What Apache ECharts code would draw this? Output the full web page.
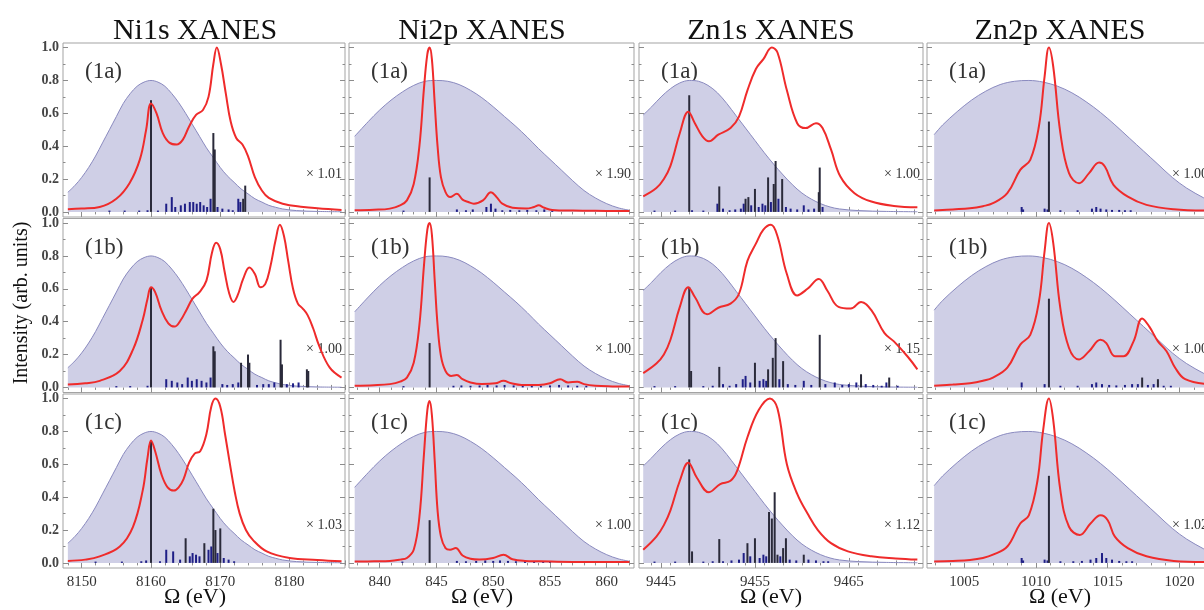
<!DOCTYPE html>
<html>
<head>
<meta charset="utf-8">
<script src="https://cdn.jsdelivr.net/npm/echarts@6/dist/echarts.min.js"></script>
<style>html,body{margin:0;padding:0;background:#fff;}#c{width:1204px;height:610px;}</style>
</head>
<body>
<div id="c"></div>
<script>
// ---------------- DATA ----------------
const titles = ['Ni1s XANES', 'Ni2p XANES', 'Zn1s XANES', 'Zn2p XANES'];
const panelLabels = ['(1a)', '(1b)', '(1c)'];
const scaleLabels = [
  ['× 1.01', '× 1.90', '× 1.00', '× 1.00'],
  ['× 1.00', '× 1.00', '× 1.15', '× 1.00'],
  ['× 1.03', '× 1.00', '× 1.12', '× 1.02']
];
const xTickLabels = [
  [8150, 8160, 8170, 8180],
  [840, 845, 850, 855, 860],
  [9445, 9455, 9465],
  [1005, 1010, 1015, 1020]
];
const yTickLabels = [0, 0.2, 0.4, 0.6, 0.8, 1.0];
const xAxisName = 'Ω (eV)';
const yAxisName = 'Intensity (arb. units)';

// incident pulse spectra (shaded)
const pulseNi1s = [[8148,0.12],[8149,0.16],[8150,0.21],[8151,0.27],[8152,0.34],[8153,0.42],[8154,0.50],[8155,0.58],[8156,0.66],[8157,0.72],[8158,0.765],[8159,0.79],[8160,0.80],[8161,0.79],[8162,0.765],[8163,0.72],[8164,0.665],[8165,0.60],[8166,0.53],[8167,0.46],[8168,0.39],[8169,0.33],[8170,0.27],[8171,0.22],[8172,0.18],[8173,0.14],[8174,0.11],[8175,0.08],[8176,0.06],[8177,0.04],[8178,0.028],[8179,0.018],[8181,0.008],[8184,0.003],[8187.5,0.001]];
const pulseNi2p = [[837.8,0.46],[839,0.55],[840,0.62],[841,0.68],[842,0.73],[843,0.77],[844,0.795],[845,0.80],[846,0.795],[847,0.775],[848,0.74],[849,0.695],[850,0.64],[851,0.58],[852,0.52],[853,0.455],[854,0.385],[855,0.32],[856,0.255],[857,0.19],[858,0.13],[859,0.085],[860,0.05],[861,0.025],[862,0.01]];
const pulseZn1s = [[9443.1,0.59],[9444,0.64],[9445,0.70],[9446,0.75],[9447,0.785],[9448,0.80],[9449,0.795],[9450,0.77],[9451,0.725],[9452,0.66],[9453,0.585],[9454,0.51],[9455,0.435],[9456,0.36],[9457,0.29],[9458,0.225],[9459,0.165],[9460,0.115],[9461,0.078],[9462,0.05],[9463,0.03],[9464,0.018],[9466,0.008],[9469,0.003],[9472.3,0.001]];
const pulseZn2p = [[1002.9,0.47],[1003.5,0.53],[1004.5,0.61],[1005.5,0.68],[1006.5,0.735],[1007.5,0.775],[1008.5,0.795],[1009.5,0.80],[1010.5,0.79],[1011.5,0.765],[1012.5,0.725],[1013.5,0.67],[1014.5,0.605],[1015.5,0.53],[1016.5,0.45],[1017.5,0.37],[1018.5,0.29],[1019.5,0.21],[1020.5,0.145],[1021.7,0.085],[1022.1,0.07]];

// XANES spectra (red)
const specNi1sA = [[8148.0,0.016],[8150,0.02],[8152.6,0.03],[8155.0,0.08],[8156.9,0.175],[8158.4,0.32],[8159.3,0.50],[8160.0,0.66],[8160.8,0.60],[8161.7,0.48],[8162.7,0.42],[8163.7,0.41],[8164.6,0.44],[8165.5,0.52],[8166.5,0.59],[8167.5,0.62],[8168.3,0.70],[8169.0,0.90],[8169.5,1.0],[8170.1,0.90],[8170.8,0.72],[8171.5,0.55],[8172.3,0.45],[8173.2,0.41],[8174.0,0.34],[8175.0,0.21],[8176.0,0.13],[8177.0,0.085],[8179.0,0.05],[8182,0.03],[8184,0.022],[8187.5,0.012]];
const specNi1sB = [[8148,0.018],[8150.5,0.025],[8152.6,0.04],[8155.5,0.10],[8157.4,0.23],[8158.8,0.41],[8159.5,0.54],[8160.0,0.61],[8160.6,0.58],[8161.5,0.47],[8162.5,0.39],[8163.4,0.37],[8164.3,0.41],[8165.1,0.47],[8166.0,0.54],[8167.0,0.58],[8168.0,0.65],[8168.8,0.82],[8169.4,0.88],[8170.0,0.84],[8170.6,0.71],[8171.3,0.57],[8171.9,0.52],[8172.5,0.56],[8173.3,0.66],[8174.2,0.73],[8175.0,0.69],[8175.8,0.61],[8176.5,0.63],[8177.2,0.73],[8178.0,0.90],[8178.6,0.99],[8179.2,0.92],[8179.8,0.77],[8180.5,0.60],[8181.2,0.51],[8181.9,0.48],[8182.6,0.44],[8183.4,0.36],[8184.3,0.25],[8185.8,0.12],[8187.5,0.06]];
const specNi1sC = [[8148,0.012],[8150.5,0.02],[8152.6,0.04],[8155.5,0.10],[8157.4,0.22],[8158.8,0.44],[8159.5,0.64],[8160.0,0.745],[8160.6,0.68],[8161.5,0.54],[8162.4,0.46],[8163.3,0.44],[8164.0,0.46],[8164.7,0.51],[8165.5,0.61],[8166.3,0.665],[8167.1,0.68],[8168.0,0.785],[8168.7,0.95],[8169.3,1.0],[8170.0,0.95],[8170.7,0.78],[8171.4,0.60],[8172.1,0.43],[8172.8,0.30],[8173.7,0.20],[8174.7,0.14],[8176.7,0.07],[8180,0.03],[8184,0.018],[8187.5,0.01]];
const specNi2pA = [[837.8,0.01],[839.5,0.013],[840.9,0.02],[841.8,0.04],[842.4,0.07],[843.0,0.17],[843.5,0.40],[843.9,0.75],[844.2,0.96],[844.4,1.0],[844.6,0.93],[844.85,0.66],[845.1,0.40],[845.4,0.21],[845.8,0.12],[846.2,0.09],[846.8,0.11],[847.3,0.075],[847.8,0.06],[848.3,0.05],[849.1,0.07],[849.8,0.12],[850.3,0.09],[850.8,0.05],[851.7,0.025],[852.9,0.02],[853.6,0.03],[854.0,0.04],[854.5,0.025],[855.2,0.012],[857,0.008],[860,0.006],[862,0.005]];
const specNi2pB = [[837.8,0.01],[839.5,0.013],[840.9,0.02],[841.8,0.035],[842.4,0.06],[843.0,0.15],[843.5,0.38],[843.9,0.74],[844.2,0.96],[844.4,1.0],[844.6,0.93],[844.85,0.65],[845.1,0.38],[845.4,0.19],[845.8,0.10],[846.3,0.07],[846.8,0.075],[847.3,0.05],[848.0,0.03],[849.0,0.02],[850.2,0.025],[850.9,0.04],[851.6,0.025],[852.5,0.015],[854.0,0.015],[855.0,0.025],[855.9,0.05],[856.6,0.03],[857.4,0.035],[858.0,0.02],[859,0.01],[860.5,0.006],[862,0.005]];
const specNi2pC = [[837.8,0.008],[839.5,0.01],[840.9,0.012],[841.8,0.02],[842.4,0.03],[843.0,0.08],[843.5,0.28],[843.9,0.66],[844.2,0.93],[844.4,0.985],[844.6,0.90],[844.85,0.62],[845.1,0.32],[845.4,0.16],[845.8,0.09],[846.2,0.08],[846.7,0.09],[847.3,0.045],[848.0,0.025],[848.8,0.02],[850.0,0.03],[850.9,0.05],[851.7,0.022],[852.8,0.012],[854.1,0.01],[857,0.006],[862,0.005]];
const specZn1sA = [[9443.1,0.095],[9444.5,0.145],[9445.3,0.2],[9446.0,0.28],[9447.0,0.48],[9447.9,0.61],[9448.6,0.54],[9449.4,0.46],[9450.1,0.43],[9451.1,0.47],[9452.4,0.51],[9453.3,0.58],[9454.2,0.74],[9455.1,0.87],[9455.9,0.93],[9456.8,1.0],[9457.4,0.97],[9458.4,0.74],[9459.5,0.54],[9460.4,0.51],[9461.5,0.54],[9462.2,0.51],[9463.1,0.38],[9464.1,0.215],[9465.6,0.114],[9467.4,0.063],[9469.8,0.036],[9472.3,0.028]];
const specZn1sB = [[9443.1,0.087],[9444.5,0.145],[9445.3,0.2],[9446.0,0.29],[9447.0,0.49],[9447.9,0.61],[9448.6,0.55],[9449.9,0.445],[9451.1,0.485],[9452.4,0.51],[9453.3,0.57],[9454.2,0.77],[9455.1,0.875],[9455.9,0.96],[9456.7,0.99],[9457.4,0.92],[9458.4,0.69],[9459.5,0.56],[9460.6,0.60],[9461.8,0.66],[9462.7,0.59],[9463.9,0.49],[9465.2,0.48],[9466.3,0.52],[9467.4,0.47],[9468.8,0.33],[9469.8,0.28],[9471.3,0.185],[9472.3,0.11]];
const specZn1sC = [[9443.1,0.08],[9444.5,0.16],[9445.3,0.23],[9446.0,0.32],[9447.0,0.50],[9447.9,0.61],[9448.8,0.52],[9450.1,0.43],[9451.3,0.48],[9452.4,0.50],[9453.1,0.56],[9454.2,0.765],[9455.4,0.93],[9456.6,1.0],[9457.4,0.94],[9458.4,0.60],[9459.5,0.42],[9460.6,0.30],[9461.7,0.20],[9463.1,0.12],[9464.9,0.07],[9467.4,0.04],[9470,0.027],[9472.3,0.02]];
const specZn2pA = [[1002.9,0.008],[1004.2,0.015],[1005.4,0.022],[1006.3,0.035],[1007.0,0.053],[1008.0,0.114],[1008.9,0.256],[1009.6,0.317],[1010.2,0.52],[1010.6,0.825],[1010.9,1.0],[1011.2,0.885],[1011.7,0.48],[1012.3,0.236],[1013.0,0.175],[1013.7,0.236],[1014.4,0.30],[1014.8,0.276],[1015.4,0.165],[1016.4,0.093],[1017.7,0.043],[1019.6,0.016],[1022.0,0.008]];
const specZn2pB = [[1002.9,0.01],[1004.2,0.017],[1005.4,0.025],[1006.3,0.04],[1007.0,0.06],[1008.0,0.12],[1008.9,0.26],[1009.6,0.32],[1010.2,0.52],[1010.6,0.83],[1010.9,1.0],[1011.2,0.88],[1011.7,0.48],[1012.3,0.24],[1013.0,0.17],[1013.7,0.22],[1014.5,0.29],[1014.9,0.27],[1015.5,0.19],[1016.1,0.19],[1016.8,0.28],[1017.4,0.42],[1017.9,0.37],[1018.5,0.28],[1019.1,0.22],[1019.7,0.12],[1020.4,0.05],[1022.0,0.02]];
const specZn2pC = [[1002.9,0.008],[1004.2,0.012],[1005.4,0.018],[1006.3,0.03],[1007.0,0.05],[1008.0,0.10],[1008.9,0.24],[1009.5,0.29],[1010.1,0.50],[1010.5,0.81],[1010.9,1.0],[1011.2,0.87],[1011.7,0.44],[1012.3,0.22],[1013.05,0.17],[1013.8,0.24],[1014.5,0.29],[1015.0,0.26],[1015.5,0.16],[1016.4,0.09],[1017.7,0.04],[1019.6,0.012],[1022.0,0.005]];

// transition sticks: strong (black) and weak (blue)
const strongNi1sA = [[8160.0,0.68],[8169.0,0.48],[8169.2,0.38],[8173.6,0.16],[8173.3,0.08]];
const weakNi1sA = [[8154,0.008],[8156.2,0.008],[8158.3,0.008],[8159.5,0.01],[8161,0.008],[8162.2,0.05],[8163.0,0.09],[8163.5,0.03],[8164.3,0.04],[8164.9,0.05],[8165.6,0.06],[8166.1,0.06],[8166.6,0.05],[8167.1,0.06],[8167.6,0.04],[8168.1,0.03],[8168.6,0.08],[8169.6,0.03],[8170.3,0.02],[8171.2,0.015],[8171.8,0.01],[8172.6,0.08],[8172.9,0.06]];
const strongNi1sB = [[8160.0,0.61],[8169.0,0.25],[8169.2,0.22],[8173.0,0.15],[8174.0,0.20],[8174.2,0.15],[8178.7,0.29],[8178.9,0.14],[8182.5,0.11],[8182.7,0.10]];
const weakNi1sB = [[8155,0.008],[8157,0.008],[8159.5,0.01],[8162.2,0.05],[8163.0,0.04],[8163.8,0.03],[8164.5,0.02],[8165.3,0.06],[8165.9,0.04],[8166.6,0.05],[8167.3,0.04],[8168.0,0.03],[8168.6,0.06],[8170.3,0.02],[8171.0,0.015],[8171.8,0.02],[8172.6,0.03],[8175.3,0.015],[8176.2,0.02],[8177.0,0.02],[8177.8,0.03],[8179.6,0.02],[8180.5,0.025],[8181.3,0.03]];
const strongNi1sC = [[8160.0,0.745],[8169.0,0.33],[8169.3,0.20],[8170.0,0.21],[8165.0,0.15],[8167.7,0.12]];
const weakNi1sC = [[8152,0.008],[8155.8,0.008],[8158.6,0.01],[8159.3,0.015],[8161.3,0.01],[8162.2,0.08],[8163.2,0.07],[8164.2,0.02],[8165.6,0.04],[8166.0,0.06],[8166.5,0.05],[8167.0,0.04],[8168.3,0.08],[8168.7,0.10],[8169.6,0.06],[8170.5,0.03],[8171.2,0.02],[8172.0,0.01]];
const strongNi2pA = [[844.4,0.21]];
const weakNi2pA = [[842.1,0.008],[846.8,0.015],[847.6,0.01],[848.2,0.015],[849.4,0.03],[849.8,0.05],[850.2,0.02],[850.8,0.01],[851.5,0.012],[852.3,0.01],[853.0,0.012],[853.8,0.01],[854.5,0.015],[855.2,0.01]];
const strongNi2pB = [[844.4,0.27]];
const weakNi2pB = [[842.1,0.008],[846.5,0.01],[847.2,0.012],[848,0.01],[848.8,0.012],[849.5,0.015],[850.3,0.012],[851,0.015],[851.8,0.012],[852.6,0.01],[853.4,0.012],[854.2,0.01],[855,0.012],[855.8,0.015],[856.6,0.012],[857.4,0.01],[858.2,0.01]];
const strongNi2pC = [[844.4,0.26]];
const weakNi2pC = [[842.0,0.008],[846.8,0.012],[847.6,0.01],[848.5,0.012],[849.3,0.015],[850.0,0.012],[850.6,0.015],[851.3,0.012],[852.0,0.01],[852.8,0.012],[853.6,0.01],[854.4,0.01],[855.0,0.01]];
const strongZn1sA = [[9448.0,0.71],[9451.2,0.155],[9454.0,0.08],[9454.3,0.09],[9455.0,0.14],[9456.4,0.21],[9457.0,0.17],[9457.2,0.31],[9457.9,0.20],[9461.9,0.27],[9461.8,0.12]];
const weakZn1sA = [[9444.3,0.008],[9446.5,0.008],[9448.3,0.01],[9449.5,0.008],[9451.0,0.05],[9451.6,0.02],[9452.3,0.01],[9452.9,0.015],[9453.5,0.02],[9453.8,0.05],[9454.6,0.04],[9455.4,0.03],[9455.8,0.05],[9456.1,0.04],[9456.7,0.06],[9457.5,0.08],[9458.3,0.03],[9458.8,0.02],[9459.5,0.015],[9460.2,0.04],[9460.7,0.015],[9461.3,0.02],[9462.2,0.03]];
const strongZn1sB = [[9448.0,0.61],[9448.2,0.10],[9451.2,0.125],[9455.0,0.15],[9456.4,0.11],[9456.9,0.18],[9457.2,0.30],[9458.0,0.16],[9461.9,0.32],[9466.3,0.08],[9469.3,0.06]];
const weakZn1sB = [[9444.3,0.008],[9446.5,0.008],[9449.5,0.008],[9450.5,0.01],[9451.6,0.02],[9452.3,0.01],[9453.0,0.02],[9453.7,0.05],[9454.0,0.07],[9454.5,0.03],[9455.5,0.04],[9455.9,0.05],[9456.2,0.04],[9457.6,0.05],[9458.5,0.02],[9459.3,0.015],[9460.2,0.04],[9461.0,0.015],[9462.5,0.02],[9463.5,0.03],[9464.3,0.015],[9465.0,0.02],[9465.8,0.03],[9466.8,0.02],[9467.6,0.015],[9468.5,0.01],[9469.0,0.03],[9470.2,0.01]];
const strongZn1sC = [[9448.0,0.63],[9448.3,0.07],[9451.2,0.145],[9454.2,0.12],[9455.0,0.15],[9456.5,0.31],[9456.8,0.27],[9457.1,0.43],[9457.4,0.05],[9458.0,0.09],[9458.3,0.15],[9460.2,0.05]];
const weakZn1sC = [[9444.3,0.008],[9446.5,0.008],[9449.5,0.008],[9450.5,0.01],[9451.6,0.01],[9452.5,0.015],[9453.3,0.02],[9453.8,0.06],[9454.5,0.04],[9455.5,0.03],[9455.9,0.05],[9456.2,0.04],[9457.7,0.04],[9458.7,0.02],[9459.4,0.015],[9460.7,0.02],[9461.5,0.015],[9462.3,0.01],[9462.8,0.01]];
const strongZn2pA = [[1010.9,0.55]];
const weakZn2pA = [[1009.0,0.03],[1009.1,0.015],[1010.6,0.02],[1010.8,0.015],[1011.7,0.01],[1012.9,0.01],[1013.9,0.02],[1014.2,0.03],[1014.5,0.02],[1014.9,0.015],[1015.3,0.012],[1015.8,0.012],[1016.2,0.01],[1016.6,0.01]];
const strongZn2pB = [[1010.9,0.54],[1017.4,0.06],[1018.5,0.05]];
const weakZn2pB = [[1009.0,0.03],[1010.6,0.02],[1011.7,0.01],[1012.9,0.01],[1013.9,0.02],[1014.2,0.03],[1014.6,0.02],[1015.1,0.015],[1015.6,0.012],[1016.2,0.015],[1016.7,0.02],[1017.1,0.02],[1017.8,0.015],[1018.2,0.02],[1018.9,0.01],[1019.4,0.01]];
const strongZn2pC = [[1010.9,0.53]];
const weakZn2pC = [[1009.0,0.03],[1009.1,0.015],[1010.6,0.02],[1010.8,0.015],[1011.7,0.01],[1012.6,0.01],[1013.2,0.012],[1013.8,0.02],[1014.2,0.03],[1014.6,0.06],[1014.9,0.03],[1015.3,0.02],[1015.8,0.012],[1016.3,0.01],[1016.7,0.01]];

const pulses = [pulseNi1s, pulseNi2p, pulseZn1s, pulseZn2p];
const spectra = [
  [specNi1sA, specNi2pA, specZn1sA, specZn2pA],
  [specNi1sB, specNi2pB, specZn1sB, specZn2pB],
  [specNi1sC, specNi2pC, specZn1sC, specZn2pC]
];
const strongSticks = [
  [strongNi1sA, strongNi2pA, strongZn1sA, strongZn2pA],
  [strongNi1sB, strongNi2pB, strongZn1sB, strongZn2pB],
  [strongNi1sC, strongNi2pC, strongZn1sC, strongZn2pC]
];
const weakSticks = [
  [weakNi1sA, weakNi2pA, weakZn1sA, weakZn2pA],
  [weakNi1sB, weakNi2pB, weakZn1sB, weakZn2pB],
  [weakNi1sC, weakNi2pC, weakZn1sC, weakZn2pC]
];

// ---------------- LAYOUT ----------------
const colLeft = [63, 349, 639, 927];
const colWidth = [282, 285, 284, 284];
const rowTop = [43, 218.5, 394];
const rowHeight = 174;
const xRanges = [[8147.3, 8188.0], [837.3, 862.4], [9442.65, 9472.9], [1002.4, 1022.2]];
const minorStep = [2, 1, 2, 1];
const yRange = [-0.031, 1.028];
const serif = "'Liberation Serif', 'DejaVu Serif', 'Times New Roman', serif";
const frameColor = '#a3a3a3';
const tickColor = '#8c8c8c';

function steps(a, b, s) {
  const out = [];
  const start = Math.ceil(a / s - 1e-9) * s;
  for (let v = start; v <= b + 1e-9; v += s) out.push(+v.toFixed(4));
  return out;
}

const grids = [], xAxes = [], yAxes = [], series = [], graphics = [];
const yMinor = steps(0, 1, 0.1);

for (let r = 0; r < 3; r++) {
  for (let c = 0; c < 4; c++) {
    const gi = grids.length;
    grids.push({
      left: colLeft[c], top: rowTop[r], width: colWidth[c], height: rowHeight,
      show: true, borderColor: frameColor, borderWidth: 1, backgroundColor: 'rgba(0,0,0,0)',
      containLabel: false, outerBoundsMode: 'none'
    });
    const xr = xRanges[c];
    const xMinorVals = steps(xr[0], xr[1], minorStep[c]);
    const mkX = (pos, vals, len, labels) => ({
      type: 'value', gridIndex: gi, position: pos, min: xr[0], max: xr[1],
      axisLine: { show: false }, splitLine: { show: false },
      axisTick: { show: true, inside: true, length: len, customValues: vals, lineStyle: { color: tickColor, width: 1 } },
      axisLabel: labels ? {
        show: true, customValues: xTickLabels[c], margin: 7,
        fontFamily: serif, fontSize: 15, color: '#333', formatter: v => String(v)
      } : { show: false }
    });
    xAxes.push(mkX('bottom', xTickLabels[c], 5, r === 2));
    xAxes.push(mkX('bottom', xMinorVals, 2.5, false));
    xAxes.push(mkX('top', xTickLabels[c], 5, false));
    xAxes.push(mkX('top', xMinorVals, 2.5, false));
    const mkY = (pos, vals, len, labels) => ({
      type: 'value', gridIndex: gi, position: pos, min: yRange[0], max: yRange[1],
      axisLine: { show: false }, splitLine: { show: false },
      axisTick: { show: true, inside: true, length: len, customValues: vals, lineStyle: { color: tickColor, width: 1 } },
      axisLabel: labels ? {
        show: true, customValues: yTickLabels, margin: 4,
        fontFamily: serif, fontSize: 14, fontWeight: 'bold', color: '#444', formatter: v => v.toFixed(1)
      } : { show: false }
    });
    yAxes.push(mkY('left', yTickLabels, 5, c === 0));
    yAxes.push(mkY('left', yMinor, 2.5, false));
    yAxes.push(mkY('right', yTickLabels, 5, false));
    yAxes.push(mkY('right', yMinor, 2.5, false));

    const xi = gi * 4, yi = gi * 4;
    series.push({
      type: 'line', xAxisIndex: xi, yAxisIndex: yi, data: pulses[c],
      showSymbol: false, smooth: 0.35, silent: true, z: 1,
      lineStyle: { color: '#8a8abf', width: 1 },
      areaStyle: { color: '#cfcfe6', opacity: 1 }
    });
    const stickData = weakSticks[r][c].map(p => ({ value: p, itemStyle: { color: '#1e1e86' } }))
      .concat(strongSticks[r][c].map(p => ({ value: p, itemStyle: { color: '#2a2a3a' } })));
    series.push({
      type: 'bar', xAxisIndex: xi, yAxisIndex: yi, data: stickData,
      barWidth: 2, silent: true, z: 3
    });
    series.push({
      type: 'line', xAxisIndex: xi, yAxisIndex: yi, data: spectra[r][c],
      showSymbol: false, smooth: 0.4, silent: true, z: 5,
      lineStyle: { color: '#ef2b2b', width: 2 }
    });

    // panel label and scale factor
    graphics.push({
      type: 'text', x: colLeft[c] + 22, y: rowTop[r] + 29,
      style: { text: panelLabels[r], font: '23px ' + serif, fill: '#333',
        align: 'left', verticalAlign: 'middle', textAlign: 'left', textVerticalAlign: 'middle' }
    });
    graphics.push({
      type: 'text', x: colLeft[c] + colWidth[c] - 3, y: rowTop[r] + 131,
      style: { text: scaleLabels[r][c], font: '14px ' + serif, fill: '#333',
        align: 'right', verticalAlign: 'middle', textAlign: 'right', textVerticalAlign: 'middle' }
    });
  }
}

const titleX = [195, 482, 771, 1060];
for (let c = 0; c < 4; c++) {
  graphics.push({
    type: 'text', x: titleX[c], y: 31,
    style: { text: titles[c], font: '30px ' + serif, fill: '#111',
      align: 'center', verticalAlign: 'middle', textAlign: 'center', textVerticalAlign: 'middle' }
  });
  graphics.push({
    type: 'text', x: titleX[c], y: 597,
    style: { text: xAxisName, font: '22px ' + serif, fill: '#111',
      align: 'center', verticalAlign: 'middle', textAlign: 'center', textVerticalAlign: 'middle' }
  });
}
graphics.push({
  type: 'text', x: 22, y: 303, rotation: Math.PI / 2,
  style: { text: yAxisName, font: '20px ' + serif, fill: '#111',
    align: 'center', verticalAlign: 'middle', textAlign: 'center', textVerticalAlign: 'middle' }
});

const chart = echarts.init(document.getElementById('c'), null, { renderer: 'canvas' });
chart.setOption({
  animation: false,
  backgroundColor: '#fff',
  grid: grids,
  xAxis: xAxes,
  yAxis: yAxes,
  series: series,
  graphic: { elements: graphics }
});
</script>
</body>
</html>
